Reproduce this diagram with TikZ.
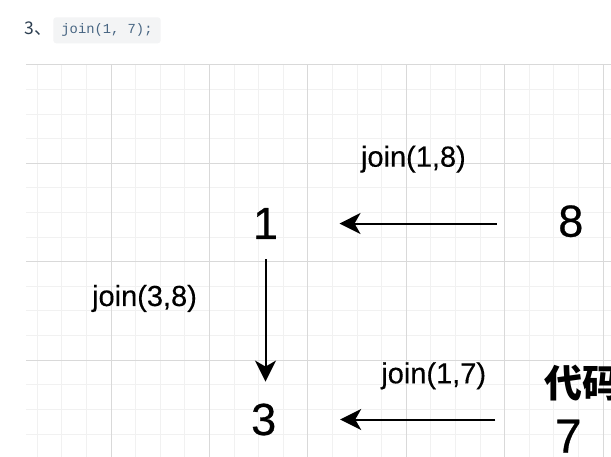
\documentclass[tikz,border=0pt]{standalone}
\usepackage{fontspec}
\setmainfont{Liberation Sans}
\newfontfamily\numfont{Liberation Sans}[FakeBold=0.6]
\newfontfamily\lblfont{Liberation Sans}[FakeBold=0.3]
\newfontfamily\cjk{Noto Sans CJK SC}
\newfontfamily\codefont{Liberation Mono}
\usetikzlibrary{arrows.meta}
\definecolor{minorgrid}{HTML}{F1F1F1}
\definecolor{majorgrid}{HTML}{D9D9D9}
\definecolor{codebg}{HTML}{F3F4F5}
\definecolor{codefg}{HTML}{476582}
\definecolor{headtext}{HTML}{2C3E50}
\begin{document}
\begin{tikzpicture}[x=1pt,y=-1pt,
  num/.style={inner sep=0pt, anchor=base, font=\numfont\fontsize{45}{45}\selectfont},
  lbl/.style={inner sep=0pt, anchor=base, font=\lblfont\fontsize{29}{29}\selectfont},
  conn/.style={line width=2pt, -{Stealth[length=21pt,width=21pt,inset=6pt]}},
  minorline/.style={minorgrid, line width=1pt},
  majorline/.style={majorgrid, line width=1pt},
]
\useasboundingbox (0,0) rectangle (611,457);
\fill[white] (0,0) rectangle (611,457);
% grid
\foreach \i in {0,...,23} { \draw[minorline] ({37.2+24.6*\i},65) -- ({37.2+24.6*\i},457); }
\foreach \j in {1,...,15} { \draw[minorline] (26,{65+24.6*\j}) -- (611,{65+24.6*\j}); }
\foreach \m in {0,...,5} { \draw[majorline] ({111+98.4*\m},65) -- ({111+98.4*\m},457); }
\foreach \j in {0,...,3} { \draw[majorline] (26,{65+98.4*\j}) -- (611,{65+98.4*\j}); }
% header
\node[anchor=west, inner sep=0pt, text=headtext, font=\cjk\fontsize{17.5}{17.5}\selectfont] (hd) at (24.5,28.5) {3、};
\node[fill=codebg, rounded corners=3pt, minimum width=107.4pt, minimum height=26pt, inner sep=0pt,
      text=codefg, font=\codefont\fontsize{13.8}{13.8}\selectfont] (code) at (107,30.3) {join(1, 7);};
% numbers
\node[num] (n1) at (265.5,239) {1};
\node[num] (n8) at (570.8,236.7) {8};
\node[num] (n3) at (263.7,435) {3};
\node[num, font=\numfont\fontsize{48}{48}\selectfont] (n7) at (568.3,452.7) {7};
% labels
\node[lbl] (l18) at (413.4,166.7) {join(1,8)};
\node[lbl] (l38) at (144.5,306) {join(3,8)};
\node[lbl] (l17) at (433.7,383.3) {join(1,7)};
% watermark
\node[anchor=west, inner sep=0pt, font=\cjk\bfseries\fontsize{38}{38}\selectfont] (wm) at (544,383) {代码};
% connectors
\draw[conn, shorten <=61.3pt, shorten >=61.3pt] (n1.east -| n8.west) -- (n1.east);
\draw[conn, shorten <=20.3pt, shorten >=21.8pt] (n1.south) -- (n1.south |- n3.north);
\draw[conn, shorten <=59.3pt, shorten >=63.8pt] (n3.east -| n7.west) -- (n3.east);
\end{tikzpicture}
\end{document}
